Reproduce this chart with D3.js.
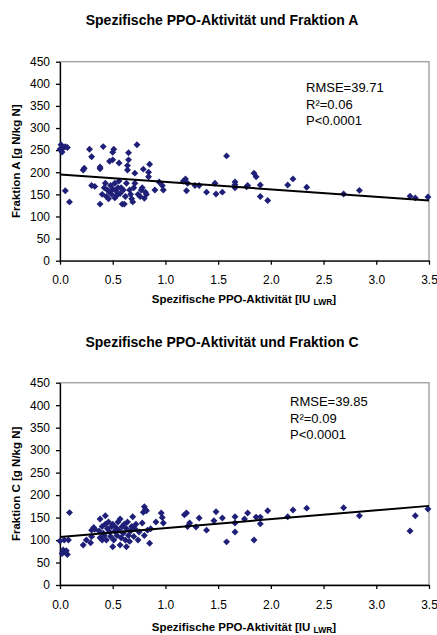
<!DOCTYPE html>
<html><head><meta charset="utf-8">
<script src="https://cdn.jsdelivr.net/npm/d3@7"></script>
<style>body{margin:0;background:#fff}svg{display:block;font-family:"Liberation Sans",Arial,sans-serif}</style>
</head><body><svg id="c" width="437" height="635"></svg>
<script>
// ---- Data ----
const xTicks = [0.0,0.5,1.0,1.5,2.0,2.5,3.0,3.5];
const yTicks = [0,50,100,150,200,250,300,350,400,450];

const titleA = "Spezifische PPO-Aktivität und Fraktion A";
const titleC = "Spezifische PPO-Aktivität und Fraktion C";
const yLabelA = "Fraktion A [g N/kg N]";
const yLabelC = "Fraktion C [g N/kg N]";
const statsA = ["RMSE=39.71","R²=0.06","P<0.0001"];
const statsC = ["RMSE=39.85","R²=0.09","P<0.0001"];

const xA = [0.00,0.01,0.03,0.05,0.07,0.02,0.05,0.09,
 0.22,0.23,0.28,0.30,0.30,0.33,0.38,0.38,0.41,0.38,
 0.40,0.42,0.43,0.44,0.45,0.46,0.47,0.47,0.48,0.49,0.50,0.50,0.51,0.50,0.52,0.52,0.53,0.54,0.55,0.56,0.56,0.57,0.58,0.59,0.61,0.60,0.62,0.63,0.64,0.64,0.65,0.65,0.66,0.67,0.68,0.69,0.70,0.71,0.71,0.73,0.74,0.76,0.77,0.78,0.79,0.80,0.81,0.82,0.84,0.84,0.85,0.90,0.94,0.97,0.98,
 1.17,1.19,1.21,1.20,1.28,1.32,1.39,1.47,1.48,1.54,1.58,1.66,1.66,1.66,1.77,1.78,1.84,1.86,1.90,1.90,1.97,2.16,2.21,2.34,2.69,2.84,3.32,3.37,3.49];
const yA = [252,262,255,258,256,246,158,133,
 205,209,252,235,170,168,208,212,258,128,
 150,165,175,145,160,140,155,225,170,150,228,245,252,162,142,175,158,148,165,221,180,152,165,128,128,160,145,175,205,215,228,244,160,150,140,133,165,198,175,262,150,145,160,165,207,141,155,150,190,200,218,160,178,170,160,
 180,185,175,158,170,170,155,175,151,155,237,165,172,178,167,170,198,190,171,145,136,171,185,166,151,159,146,142,144];

const xC = [0.00,0.02,0.03,0.04,0.05,0.06,0.07,0.08,0.09,
 0.22,0.25,0.29,0.30,0.30,0.32,0.33,0.38,0.43,
 0.37,0.38,0.40,0.40,0.41,0.42,0.43,0.44,0.45,0.46,0.47,0.48,0.49,0.50,0.50,0.51,0.52,0.53,0.54,0.55,0.56,0.57,0.57,0.58,0.59,0.60,0.61,0.62,0.63,0.63,0.64,0.65,0.66,0.67,0.68,0.69,0.70,0.71,0.72,0.74,0.75,0.78,0.79,0.80,0.81,0.82,0.80,0.83,0.85,0.86,0.91,0.96,0.97,0.98,
 1.18,1.20,1.21,1.23,1.29,1.32,1.39,1.46,1.48,1.54,1.58,1.66,1.66,1.66,1.75,1.78,1.84,1.86,1.90,1.90,1.97,2.16,2.21,2.34,2.69,2.84,3.32,3.37,3.49];
const yC = [98,70,78,100,73,76,68,100,161,
 89,100,94,108,122,128,124,147,154,
 120,105,100,130,115,110,135,100,125,140,118,108,130,85,135,100,120,128,110,140,122,89,147,105,130,115,135,100,85,125,140,110,97,120,130,152,108,125,135,100,118,138,162,174,168,165,110,122,93,125,140,160,150,138,
 156,160,130,138,129,149,122,143,163,149,96,152,138,118,147,160,100,151,151,136,165,152,167,171,172,154,120,154,169];

// regression line end values at x=0 and x=3.5
const fitA = [195,136];
const fitC = [107,176];

// ---- Drawing ----
const svg = d3.select("#c");
const navy = "#1f1f78";

function panel(o){
  const g = svg.append("g");
  const x = d3.scaleLinear().domain([0,3.5]).range([60,429]);
  const y = d3.scaleLinear().domain([0,450]).range([o.bottom,o.top]);
  // title
  g.append("text").attr("x",222).attr("y",o.titleY).attr("text-anchor","middle")
    .attr("font-size",14).attr("font-weight","bold").text(o.title);
  // plot border (grey)
  g.append("rect").attr("x",60).attr("y",o.top).attr("width",369).attr("height",o.bottom-o.top)
    .attr("fill","none").attr("stroke","#a6a6a6").attr("stroke-width",1.5);
  // axes
  const ya = g.append("g").attr("transform","translate(60,0)")
    .call(d3.axisLeft(y).tickValues(yTicks).tickFormat(d3.format("d")).tickSize(4).tickPadding(6).tickSizeOuter(0));
  const xa = g.append("g").attr("transform",`translate(0,${o.bottom})`)
    .call(d3.axisBottom(x).tickValues(xTicks).tickFormat(d3.format(".1f")).tickSize(4).tickPadding(11).tickSizeOuter(0));
  [ya,xa].forEach(a=>{
    a.selectAll("text").attr("font-size",12).attr("font-family","Liberation Sans, Arial, sans-serif").attr("fill","#000");
    a.selectAll("line,path").attr("stroke","#000").attr("stroke-width",1.3);
  });
  // y label
  g.append("text").attr("transform",`translate(20,${(o.top+o.bottom)/2}) rotate(-90)`)
    .attr("text-anchor","middle").attr("font-size",11.5).attr("font-weight","bold").text(o.yLabel);
  // x label
  const xl = g.append("text").attr("x",244).attr("y",o.xLabelY).attr("text-anchor","middle")
    .attr("font-size",11.5).attr("font-weight","bold");
  xl.append("tspan").text("Spezifische PPO-Aktivität [IU ");
  xl.append("tspan").attr("font-size",8.5).attr("dy",2).text("LWR");
  xl.append("tspan").attr("dy",-2).text("]");
  // points
  const pts = o.xs.map((v,i)=>[v,o.ys[i]]);
  g.append("g").selectAll("path").data(pts).join("path")
    .attr("d", d3.symbol(d3.symbolSquare, 24)())
    .attr("transform", d=>`translate(${x(d[0])},${y(d[1])}) rotate(45)`)
    .attr("fill", navy);
  // regression
  g.append("line").attr("x1",x(0)).attr("y1",y(o.fit[0])).attr("x2",x(3.5)).attr("y2",y(o.fit[1]))
    .attr("stroke","#000").attr("stroke-width",2);
  // stats
  o.stats.forEach((s,i)=>{
    g.append("text").attr("x",o.statsX).attr("y",o.statsY+i*16.5).attr("font-size",13).text(s);
  });
}

panel({top:61.7,bottom:260.7,title:titleA,titleY:25,yLabel:yLabelA,xLabelY:303,
  xs:xA,ys:yA,fit:fitA,stats:statsA,statsX:306,statsY:92});
panel({top:382.7,bottom:585,title:titleC,titleY:347,yLabel:yLabelC,xLabelY:631,
  xs:xC,ys:yC,fit:fitC,stats:statsC,statsX:290,statsY:406});
</script></body></html>
